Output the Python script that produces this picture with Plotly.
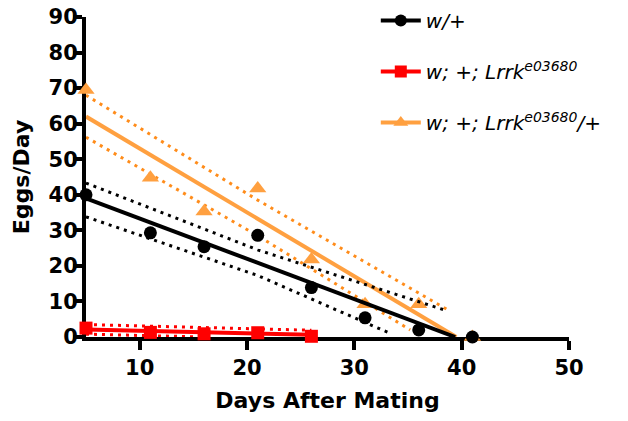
import plotly.graph_objects as go

# ---- data ----
days_wt = [5, 11, 16, 21, 26, 31, 36, 41]
eggs_wt = [40, 29.3, 25.4, 28.6, 13.9, 5.4, 2.0, 0.0]

days_mut = [5, 11, 16, 21, 26]
eggs_mut = [2.5, 1.3, 0.9, 1.2, 0.2]

days_het = [5, 11, 16, 21, 26, 31, 36, 41]
eggs_het = [69.5, 44.8, 35.3, 41.8, 21.8, 9.2, 9.2, 0.0]

# linear regression lines and 95% confidence bands
wt_fit_x, wt_fit_y = [5, 39.4], [39.0, 0.0]
wt_hi_x, wt_hi_y = [5, 21, 38.7], [43.3, 24.5, 7.3]
wt_lo_x, wt_lo_y = [5, 21, 33.5], [33.8, 17.3, 0.8]

mut_fit_x, mut_fit_y = [5, 26], [2.1, 0.6]
mut_hi_x, mut_hi_y = [5, 26], [3.5, 1.9]
mut_lo_x, mut_lo_y = [5, 16], [0.8, 0.0]

het_fit_x, het_fit_y = [5, 39.5], [62.0, 0.0]
het_hi_x, het_hi_y = [5, 21, 38.9], [68.0, 38.5, 7.3]
het_lo_x, het_lo_y = [5, 21, 35.2], [56.2, 28.5, 2.0]

x_ticks = [10, 20, 30, 40, 50]
y_ticks = [0, 10, 20, 30, 40, 50, 60, 70, 80, 90]

names = ["<i>w/+</i>",
         "<i>w; +; Lrrk<sup>e03680</sup></i>",
         "<i>w; +; Lrrk<sup>e03680</sup>/+</i>"]

BLACK = "#000000"
RED = "#FF0000"
ORANGE = "#FFA040"
ORANGE_DOT = "#FF8C1A"
DOT = "3px,5px"

fig = go.Figure()

def line(x, y, color, width, dash=None):
    fig.add_trace(go.Scatter(x=x, y=y, mode="lines", showlegend=False,
                             hoverinfo="skip", cliponaxis=False,
                             line=dict(color=color, width=width, dash=dash)))

# orange (heterozygote)
line(het_hi_x, het_hi_y, ORANGE_DOT, 3, DOT)
line(het_lo_x, het_lo_y, ORANGE_DOT, 3, DOT)
line(het_fit_x, het_fit_y, ORANGE, 4)
fig.add_trace(go.Scatter(x=days_het, y=eggs_het, mode="markers", showlegend=False,
                         cliponaxis=False,
                         marker=dict(symbol="triangle-up", size=15, color=ORANGE)))

# black (w/+)
line(wt_hi_x, wt_hi_y, BLACK, 3, DOT)
line(wt_lo_x, wt_lo_y, BLACK, 3, DOT)
line(wt_fit_x, wt_fit_y, BLACK, 4)
fig.add_trace(go.Scatter(x=days_wt, y=eggs_wt, mode="markers", showlegend=False,
                         cliponaxis=False,
                         marker=dict(symbol="circle", size=13, color=BLACK)))

# red (mutant)
line(mut_hi_x, mut_hi_y, RED, 3, DOT)
line(mut_lo_x, mut_lo_y, RED, 3, DOT)
line(mut_fit_x, mut_fit_y, RED, 4)
fig.add_trace(go.Scatter(x=days_mut, y=eggs_mut, mode="markers", showlegend=False,
                         cliponaxis=False,
                         marker=dict(symbol="square", size=13, color=RED)))

# legend entries
for nm, col, sym, sz in [(names[0], BLACK, "circle", 12),
                         (names[1], RED, "square", 12),
                         (names[2], ORANGE, "triangle-up", 13)]:
    fig.add_trace(go.Scatter(x=[None], y=[None], mode="lines+markers", name=nm,
                             legendgroup=nm,
                             line=dict(color=col, width=4),
                             marker=dict(symbol=sym, size=sz, color=col)))

axis_common = dict(
    showline=True, linecolor="black", linewidth=4,
    ticks="outside", ticklen=9, tickwidth=4, tickcolor="black",
    showgrid=False, zeroline=False, layer="below traces",
    tickfont=dict(family="DejaVu Sans", size=21, color="black", weight="bold"),
)

fig.update_layout(
    width=628, height=421,
    margin=dict(l=86, r=59, t=17, b=84, autoexpand=False),
    paper_bgcolor="white", plot_bgcolor="white",
    xaxis=dict(range=[5, 50], tickvals=x_ticks,
               title=dict(text="Days After Mating", standoff=14,
                          font=dict(family="DejaVu Sans", size=22, color="black", weight="bold")),
               **axis_common),
    yaxis=dict(range=[0, 90], tickvals=y_ticks, ticklabelstandoff=-9,
               title=dict(text="Eggs/Day", standoff=14,
                          font=dict(family="DejaVu Sans", size=22, color="black", weight="bold")),
               **axis_common),
    legend=dict(x=0.600, y=1.05, xanchor="left", yanchor="top",
                bgcolor="rgba(0,0,0,0)", tracegroupgap=22, itemwidth=40,
                font=dict(family="DejaVu Sans", size=20, color="black")),
    showlegend=True,
)

fig.write_html("out.html")
